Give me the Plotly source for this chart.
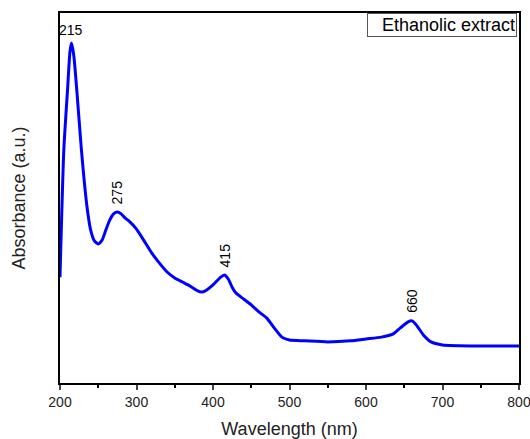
import plotly.graph_objects as go

wavelength = [200, 205, 210, 213, 215, 218, 222, 228, 235, 240, 245, 250, 255, 260, 265, 270, 275, 280,
              285, 290, 300, 310, 320, 330, 340, 350, 360, 370, 380, 385, 390, 400, 410, 415, 420, 425,
              430, 440, 450, 460, 470, 480, 490, 500, 520, 550, 580, 600, 620, 635, 645, 655, 660, 665,
              675, 685, 700, 750, 800]
absorbance = [0.286, 0.63, 0.797, 0.895, 0.919, 0.886, 0.79, 0.63, 0.481, 0.414, 0.384, 0.376, 0.386,
              0.414, 0.44, 0.457, 0.462, 0.457, 0.446, 0.438, 0.416, 0.384, 0.351, 0.324, 0.30, 0.284,
              0.273, 0.262, 0.249, 0.246, 0.249, 0.265, 0.286, 0.292, 0.281, 0.259, 0.243, 0.227, 0.211,
              0.192, 0.176, 0.149, 0.124, 0.116, 0.114, 0.111, 0.114, 0.119, 0.124, 0.132, 0.149, 0.165,
              0.168, 0.159, 0.130, 0.111, 0.103, 0.100, 0.100]

peak_labels = ["215", "275", "415", "660"]
peak_x = [215, 275, 415, 660]
peak_y = [0.919, 0.462, 0.292, 0.168]
peak_angle = [0, -90, -90, -90]

x_ticks = [200, 300, 400, 500, 600, 700, 800]

FONT = "Liberation Sans, Arial"

fig = go.Figure()
fig.add_trace(go.Scatter(x=wavelength, y=absorbance, mode="lines",
                         line=dict(color="rgb(0,0,255)", width=3, shape="spline", smoothing=0.6),
                         name="Ethanolic extract", showlegend=False))

for lab, px, py, ang in zip(peak_labels, peak_x, peak_y, peak_angle):
    fig.add_annotation(x=px, y=py, text=lab, showarrow=False, textangle=ang,
                       xanchor="center", yanchor="bottom", yshift=3 if ang == 0 else 6,
                       font=dict(family=FONT, size=14, color="black"))

fig.add_annotation(xref="paper", yref="paper", x=1, y=1, xanchor="right", yanchor="top",
                   text="Ethanolic extract", showarrow=False, bordercolor="#555", borderwidth=1,
                   borderpad=1, bgcolor="white", xshift=-2, yshift=0, width=146, align="right",
                   font=dict(family=FONT, size=18, color="black"))

fig.update_layout(
    width=530, height=439,
    margin=dict(l=60, r=11, t=13, b=56),
    plot_bgcolor="white", paper_bgcolor="white",
    font=dict(family=FONT, size=14, color="black"),
    xaxis=dict(range=[200, 800], tickvals=x_ticks, ticks="outside", ticklen=5, tickwidth=1.5,
               showline=True, linecolor="black", linewidth=2, mirror=True, showgrid=False,
               zeroline=False, tickfont=dict(size=14, color="#222"), automargin=False,
               ticklabeloverflow="allow",
               minor=dict(dtick=50, ticks="outside", ticklen=3, tickwidth=1.5, tickcolor="black"),
               title=dict(text="Wavelength (nm)", font=dict(size=18, color="#222"), standoff=14)),
    yaxis=dict(range=[0, 1], showticklabels=False, ticks="", showline=True, linecolor="black",
               linewidth=2, mirror=True, showgrid=False, zeroline=False, automargin=False,
               title=dict(text="Absorbance (a.u.)", font=dict(size=18, color="#222"), standoff=28)),
)

fig.write_html("out.html", config={"displayModeBar": False},
               post_script="document.body.style.margin='0';document.body.style.overflow='hidden';")
